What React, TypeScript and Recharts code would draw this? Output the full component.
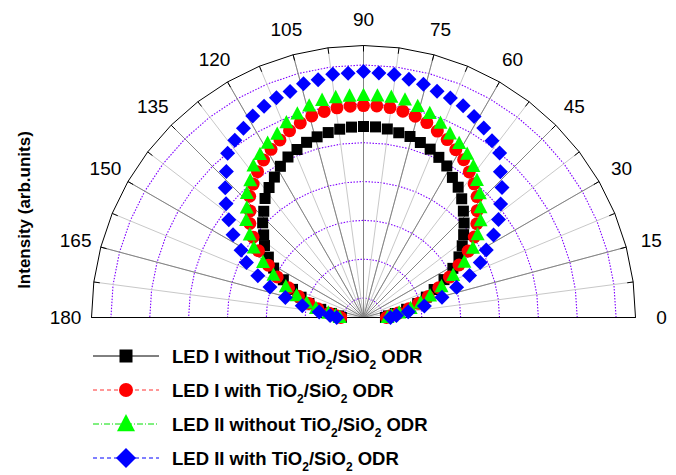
import React from "react";
import { PolarAngleAxis, PolarGrid, PolarRadiusAxis, Radar, RadarChart } from "recharts";

// emission angle (deg), one reading every 3.6 deg
const angles = [
  0, 3.6, 7.2, 10.8, 14.4, 18, 21.6, 25.2, 28.8, 32.4, 36, 39.6, 43.2, 46.8, 50.4, 54, 57.6, 61.2, 64.8, 68.4, 72, 75.6,
  79.2, 82.8, 86.4, 90, 93.6, 97.2, 100.8, 104.4, 108, 111.6, 115.2, 118.8, 122.4, 126, 129.6, 133.2, 136.8, 140.4, 144,
  147.6, 151.2, 154.8, 158.4, 162, 165.6, 169.2, 172.8, 176.4, 180,
];

// intensity, arb. units
const ledIWithout = [
  11.3, 12.9, 16.5, 22.6, 28.8, 34.0, 39.1, 45.8, 52.5, 58.2, 62.8, 66.9, 71.0, 75.1, 79.3, 82.9, 85.4, 89.0, 91.1, 93.2,
  94.7, 96.2, 96.8, 97.8, 98.3, 98.3, 98.2, 97.7, 96.9, 96.0, 94.8, 93.0, 91.3, 88.8, 85.6, 82.7, 79.5, 75.0, 71.2, 66.7,
  63.0, 58.0, 52.8, 45.6, 39.3, 33.8, 29.0, 22.4, 16.7, 12.8, 11.4,
];
const ledIWith = [
  11.8, 13.9, 18.0, 23.7, 29.3, 35.0, 41.7, 48.9, 56.1, 63.8, 70.5, 75.7, 80.3, 85.4, 89.3, 92.6, 96.2, 98.6, 101.2, 103.2,
  105.5, 107.0, 108.1, 108.9, 109.1, 109.1, 109.0, 108.8, 108.0, 107.1, 105.3, 103.4, 101.0, 98.8, 96.0, 92.8, 89.1, 85.6,
  80.1, 75.9, 70.3, 64.0, 55.9, 49.1, 41.5, 35.2, 29.1, 23.9, 17.8, 14.0, 11.7,
];
const ledIIWithout = [
  12.4, 14.4, 18.5, 24.7, 30.4, 36.0, 43.2, 51.0, 59.2, 66.7, 72.6, 78.2, 82.6, 87.5, 91.6, 96.2, 99.6, 102.2, 104.5,
  107.6, 110.4, 112.2, 114.0, 114.3, 114.3, 114.3, 114.2, 114.1, 113.8, 112.4, 110.2, 107.8, 104.3, 102.4, 99.4, 96.4,
  91.4, 87.7, 82.4, 78.4, 72.4, 66.9, 59.0, 51.2, 43.0, 36.2, 30.2, 24.9, 18.3, 14.5, 12.3,
];
const ledIIWith = [
  13.9, 17.0, 23.2, 31.9, 41.7, 50.4, 58.7, 66.4, 72.1, 79.3, 85.9, 91.6, 97.8, 102.9, 109.9, 112.5, 115.5, 118.1, 120.4,
  121.5, 122.5, 124.0, 124.8, 126.1, 126.1, 126.6, 126.0, 126.2, 124.6, 124.2, 122.3, 121.7, 120.2, 118.3, 115.3, 112.7,
  109.7, 103.1, 97.6, 91.8, 85.7, 79.5, 71.9, 66.6, 58.5, 50.6, 41.5, 32.1, 23.0, 17.2, 13.8,
];

const angleLabels = [0, 15, 30, 45, 60, 75, 90, 105, 120, 135, 150, 165, 180];
const spokeAngles = [
  0, 7.5, 15, 22.5, 30, 37.5, 45, 52.5, 60, 67.5, 75, 82.5, 90, 97.5, 105, 112.5, 120, 127.5, 135, 142.5, 150, 157.5, 165,
  172.5, 180,
];
const ringLevels = [10, 30, 50, 70, 90, 110, 130];
const radiusMax = 140;

const legendNames = ["LED I without", "LED I with", "LED II without", "LED II with"];

const data = angles.map((angle, i) => ({
  angle,
  ledIWithout: ledIWithout[i],
  ledIWith: ledIWith[i],
  ledIIWithout: ledIIWithout[i],
  ledIIWith: ledIIWith[i],
}));

const FONT = '"Liberation Sans", Arial, Helvetica, sans-serif';

const Square = ({ cx, cy, size = 11 }: any) => (
  <rect x={cx - size / 2} y={cy - size / 2} width={size} height={size} fill="#000" />
);
const Circle = ({ cx, cy, size = 13 }: any) => <circle cx={cx} cy={cy} r={size / 2} fill="#ff0000" />;
const Triangle = ({ cx, cy, size = 14 }: any) => (
  <polygon
    points={`${cx},${cy - size * 0.55} ${cx - size / 2},${cy + size * 0.4} ${cx + size / 2},${cy + size * 0.4}`}
    fill="#00ff00"
  />
);
const Diamond = ({ cx, cy, size = 15 }: any) => (
  <polygon
    points={`${cx},${cy - size / 2} ${cx + size / 2},${cy} ${cx},${cy + size / 2} ${cx - size / 2},${cy}`}
    fill="#0000ff"
  />
);

const series = [
  { key: "ledIWithout", Mark: Square, stroke: "#000", dash: undefined, legendSize: 13 },
  { key: "ledIWith", Mark: Circle, stroke: "#ff3030", dash: "4 3", legendSize: 14 },
  { key: "ledIIWithout", Mark: Triangle, stroke: "#00e000", dash: "6 2 1 2", legendSize: 18 },
  { key: "ledIIWith", Mark: Diamond, stroke: "#0000ff", dash: "4 3", legendSize: 20 },
];

const AngleTick = (props: any) => (
  <text
    x={props.x}
    y={props.y}
    textAnchor="middle"
    dominantBaseline="central"
    fontSize={19}
    fontFamily={FONT}
    fill="#000"
  >
    {props.payload.value}
  </text>
);

function PolarLegend() {
  return (
    <svg width={676} height={475} style={{ position: "absolute", left: 0, top: 0, pointerEvents: "none" }}>
      {series.map((s, i) => {
        const y = 356 + i * 34;
        return (
          <g key={s.key}>
            <line x1={93} x2={159} y1={y} y2={y} stroke={s.stroke} strokeWidth={1} strokeDasharray={s.dash} />
            <s.Mark cx={126} cy={y} size={s.legendSize} />
            <text x={172} y={y + 6.5} fontSize={18.5} fontWeight="bold" fontFamily={FONT} fill="#000">
              {legendNames[i]} TiO
              <tspan fontSize={12} dy={6.5}>
                2
              </tspan>
              <tspan dy={-6.5}>/SiO</tspan>
              <tspan fontSize={12} dy={6.5}>
                2
              </tspan>
              <tspan dy={-6.5}> ODR</tspan>
            </text>
          </g>
        );
      })}
    </svg>
  );
}

export default function App() {
  return (
    <div style={{ position: "absolute", left: 0, top: 0, width: 676, height: 475, background: "#fff" }}>
      <RadarChart
        width={676}
        height={475}
        data={data}
        cx={363.5}
        cy={317.5}
        outerRadius={272}
        startAngle={0}
        endAngle={180}
        margin={{ top: 0, right: 0, bottom: 0, left: 0 }}
      >
        <PolarAngleAxis
          dataKey="angle"
          type="number"
          domain={[0, 180]}
          ticks={angleLabels}
          tick={AngleTick}
          tickLine={false}
          tickSize={26}
          axisLine={false}
        />
        {/* outer rim, drawn as a fine polygon through the 7.5 deg spokes */}
        <PolarAngleAxis
          angleAxisId="spokes"
          dataKey="angle"
          type="number"
          domain={[0, 180]}
          ticks={spokeAngles}
          tick={false}
          tickLine={false}
          axisLine={{ stroke: "#000", strokeWidth: 1 }}
          axisLineType="polygon"
        />
        <PolarRadiusAxis type="number" domain={[0, radiusMax]} ticks={ringLevels} axisLine={false} tick={false} />
        <PolarGrid
          gridType="polygon"
          angleAxisId="spokes"
          radialLines={false}
          stroke="#7f00ff"
          strokeWidth={1.1}
          strokeDasharray="1.5 1.5"
        />
        <PolarGrid angleAxisId="spokes" polarRadius={[]} stroke="#c8c8c8" />
        <PolarGrid polarRadius={[]} stroke="#848484" />
        {/* short inward ticks on the rim */}
        <PolarAngleAxis
          angleAxisId="rimTicks"
          dataKey="angle"
          type="number"
          domain={[0, 180]}
          ticks={spokeAngles}
          tick={false}
          tickLine={{ stroke: "#000" }}
          tickSize={-6}
          axisLine={false}
        />
        {series.map((s) => (
          <Radar
            key={s.key}
            dataKey={s.key}
            fill="none"
            stroke="none"
            dot={(p: any) => <s.Mark key={p.index} cx={p.cx} cy={p.cy} />}
            isAnimationActive={false}
          />
        ))}
      </RadarChart>
      <div
        style={{
          position: "absolute",
          left: 25,
          top: 210,
          transform: "translate(-50%, -50%) rotate(-90deg)",
          whiteSpace: "nowrap",
          fontFamily: FONT,
          fontWeight: "bold",
          fontSize: 17,
          color: "#000",
        }}
      >
        Intensity (arb.units)
      </div>
      <PolarLegend />
    </div>
  );
}
